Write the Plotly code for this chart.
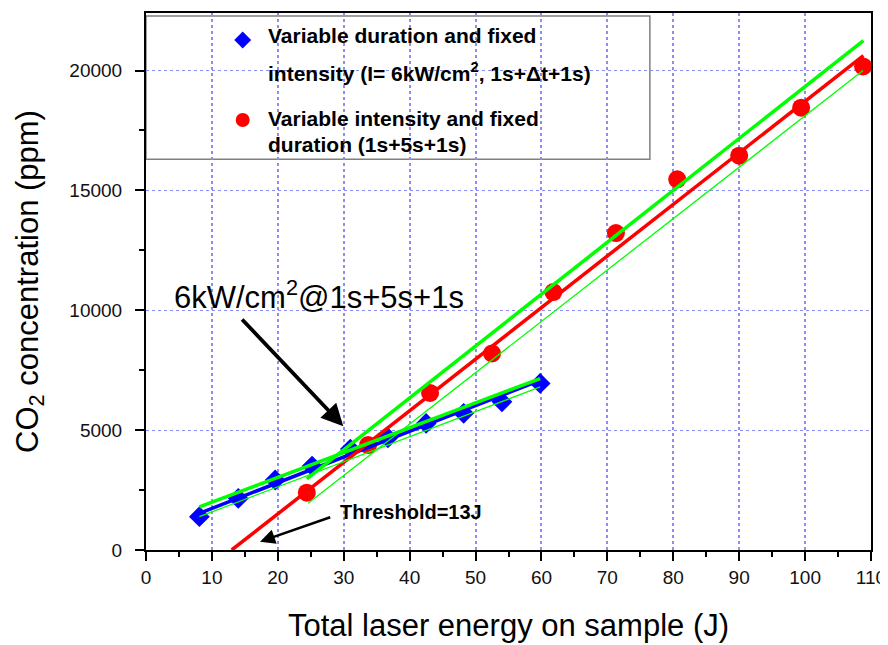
import plotly.graph_objects as go

# ---- data ----
blue_x = [8.1, 14.0, 19.6, 25.2, 31.0, 36.7, 42.5, 48.2, 54.0, 59.8]
blue_y = [1390, 2150, 2920, 3500, 4210, 4680, 5280, 5700, 6180, 6950]

red_x = [24.4, 33.7, 43.1, 52.5, 61.8, 71.3, 80.6, 90.0, 99.4, 108.8]
red_y = [2390, 4375, 6550, 8200, 10760, 13220, 15460, 16450, 18450, 20170]

# linear fits and confidence band lines (end points)
blue_fit_x = [8.1, 59.8]
blue_fit_y = [1530, 7080]
blue_up_y = [1800, 7150]
blue_lo_y = [1390, 6800]

red_fit_x = [13.0, 108.85]
red_fit_y = [0, 20625]
red_up_x = [24.4, 108.85]
red_up_y = [2965, 21250]
red_lo_x = [24.6, 108.8]
red_lo_y = [1946, 20000]

x_ticks = list(range(0, 111, 10))
y_ticks = [0, 5000, 10000, 15000, 20000]

FONT = "Arial, Liberation Sans, sans-serif"
BLUE = "#0000ff"
RED = "#ff0000"
GREEN = "#00ff00"
GRID = "#8c8cf2"

fig = go.Figure()

# markers first (lines drawn over them)
fig.add_trace(go.Scatter(x=blue_x, y=blue_y, mode="markers",
                         marker=dict(symbol="diamond", size=16, color=BLUE),
                         showlegend=False))
fig.add_trace(go.Scatter(x=red_x, y=red_y, mode="markers",
                         marker=dict(symbol="circle", size=18, color=RED),
                         showlegend=False))

# fit lines
fig.add_trace(go.Scatter(x=blue_fit_x, y=blue_fit_y, mode="lines",
                         line=dict(color=BLUE, width=3.5), showlegend=False))
fig.add_trace(go.Scatter(x=red_fit_x, y=red_fit_y, mode="lines",
                         line=dict(color=RED, width=3.5), showlegend=False))
# bands
fig.add_trace(go.Scatter(x=blue_fit_x, y=blue_up_y, mode="lines",
                         line=dict(color=GREEN, width=3.5), showlegend=False))
fig.add_trace(go.Scatter(x=blue_fit_x, y=blue_lo_y, mode="lines",
                         line=dict(color=GREEN, width=1.3), showlegend=False))
fig.add_trace(go.Scatter(x=red_up_x, y=red_up_y, mode="lines",
                         line=dict(color=GREEN, width=3.5), showlegend=False))
fig.add_trace(go.Scatter(x=red_lo_x, y=red_lo_y, mode="lines",
                         line=dict(color=GREEN, width=1.3), showlegend=False))

# legend symbols on an overlay [0,1] axis (layout positions)
fig.add_trace(go.Scatter(x=[0.1334], y=[0.9497], mode="markers", xaxis="x2", yaxis="y2",
                         marker=dict(symbol="diamond", size=13, color=BLUE),
                         showlegend=False, cliponaxis=False))
fig.add_trace(go.Scatter(x=[0.1334], y=[0.8007], mode="markers", xaxis="x2", yaxis="y2",
                         marker=dict(symbol="circle", size=14, color=RED),
                         showlegend=False, cliponaxis=False))

# legend box
fig.add_shape(type="rect", xref="paper", yref="paper", x0=0.0, x1=0.695,
              y0=0.7276, y1=0.9944, line=dict(color="#808080", width=1.5),
              fillcolor="white", layer="between")

legend_lines = [
    ("Variable duration and fixed", 0.9585),
    ("intensity (I= 6kW/cm<sup>2</sup>, 1s+\u0394t+1s)", 0.8900),
    ("Variable intensity and fixed", 0.8039),
    ("duration (1s+5s+1s)", 0.7542),
]
for txt, yy in legend_lines:
    fig.add_annotation(x=0.1655, y=yy, xref="paper", yref="paper", text="<b>" + txt + "</b>",
                       showarrow=False, xanchor="left", yanchor="middle",
                       font=dict(family=FONT, size=21, color="black"))

# text annotations and arrows
fig.add_annotation(x=3.9, y=10625, xref="x", yref="y", text="6kW/cm<sup>2</sup>@1s+5s+1s",
                   showarrow=False, xanchor="left", yanchor="middle",
                   font=dict(family=FONT, size=31, color="black"))
fig.add_annotation(x=29.94, y=5167, ax=14.37, ay=9680, xref="x", yref="y",
                   axref="x", ayref="y", text="", showarrow=True,
                   arrowhead=2, arrowsize=1.15, arrowwidth=3.8, arrowcolor="black")
fig.add_annotation(x=29.1, y=1583, xref="x", yref="y", text="<b>Threshold=13J</b>",
                   showarrow=False, xanchor="left", yanchor="middle",
                   font=dict(family=FONT, size=20, color="black"))
fig.add_annotation(x=17.3, y=346, ax=28.18, ay=1388, xref="x", yref="y",
                   axref="x", ayref="y", text="", showarrow=True,
                   arrowhead=2, arrowsize=1.2, arrowwidth=2.5, arrowcolor="black")

fig.update_layout(
    width=880, height=637,
    margin=dict(l=138, r=17, t=5, b=95, autoexpand=False),
    paper_bgcolor="white", plot_bgcolor="white",
    font=dict(family=FONT, color="black"),
    showlegend=False,
    xaxis=dict(range=[0, 110], tickvals=x_ticks, ticktext=[str(v) for v in x_ticks],
               showline=True, linecolor="black", linewidth=2, mirror=True,
               ticks="outside", ticklen=9, tickwidth=1.5, tickcolor="black",
               minor=dict(dtick=5, ticks="outside", ticklen=5, tickwidth=1.5, tickcolor="black", showgrid=False),
               showgrid=True, gridcolor=GRID, griddash="dot", gridwidth=1.5,
               zeroline=False, tickfont=dict(size=19, color="#111111"),
               title=dict(text="Total laser energy on sample (J)", font=dict(size=31), standoff=28)),
    yaxis=dict(range=[0, 22400], tickvals=y_ticks, ticktext=[str(v) for v in y_ticks],
               showline=True, linecolor="black", linewidth=2, mirror=True,
               ticks="outside", ticklen=9, tickwidth=1.5, tickcolor="black",
               minor=dict(dtick=2500, ticks="outside", ticklen=5, tickwidth=1.5, tickcolor="black", showgrid=False),
               showgrid=True, gridcolor=GRID, griddash="dot", gridwidth=1,
               zeroline=False, tickfont=dict(size=19, color="#111111"), ticklabelstandoff=9,
               title=dict(text="CO<sub>2</sub> concentration (ppm)", font=dict(size=31), standoff=22)),
    xaxis2=dict(overlaying="x", range=[0, 1], visible=False),
    yaxis2=dict(overlaying="y", range=[0, 1], visible=False),
)

fig.write_html("out.html")
